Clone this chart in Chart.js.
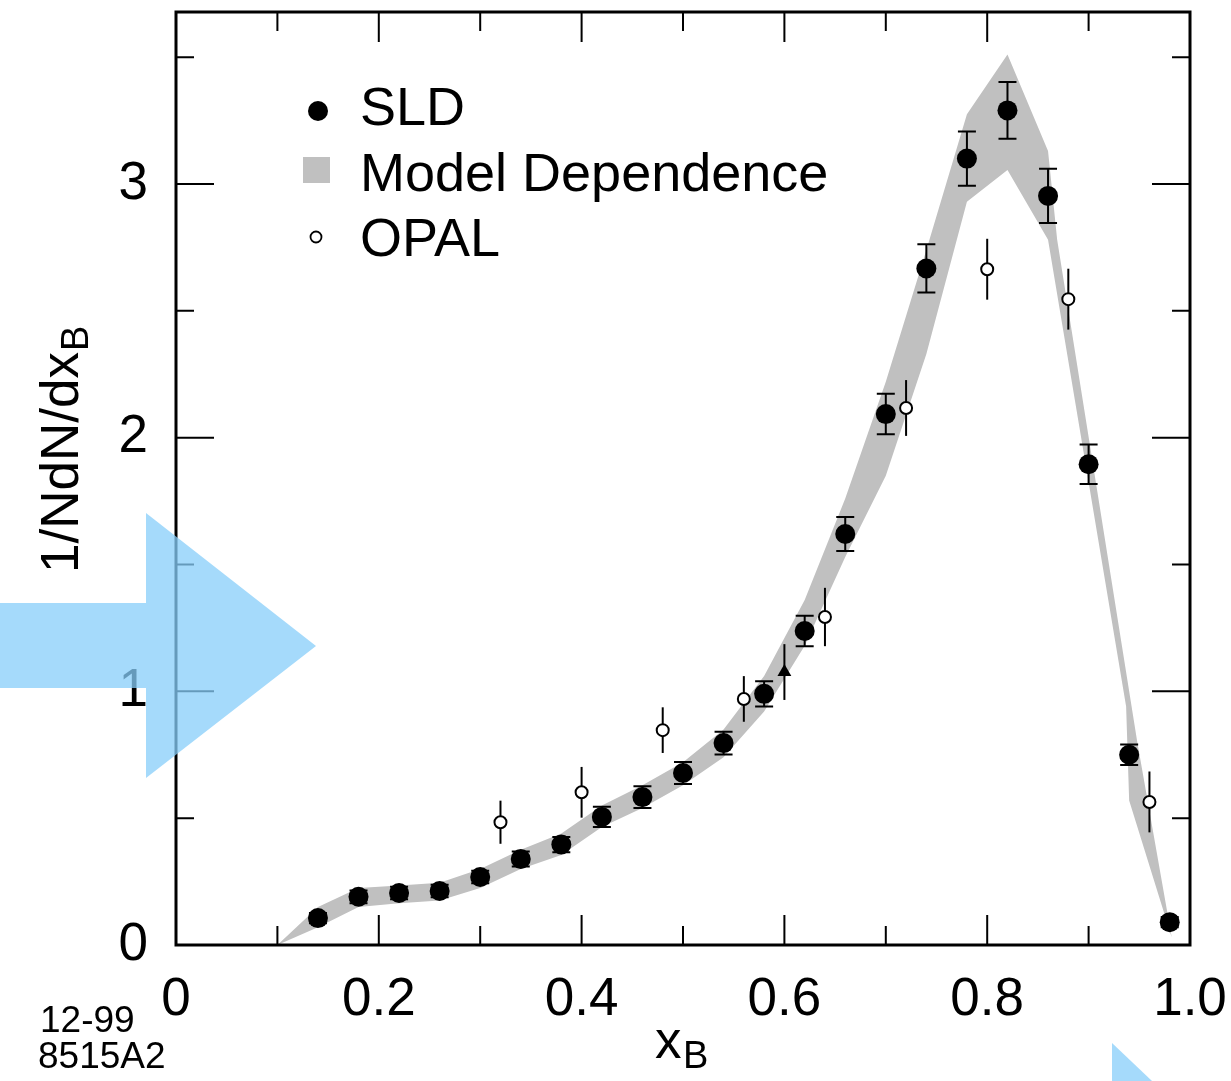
<!DOCTYPE html>
<html>
<head>
<meta charset="utf-8">
<title>x_B distribution</title>
<script src="https://cdn.jsdelivr.net/npm/chart.js@4.4.1/dist/chart.umd.min.js"></script>
<style>
  body { margin: 0; background: #fff; }
  canvas { display: block; }
</style>
</head>
<body>
<canvas id="chart" width="1231" height="1081"></canvas>
<script>
// SLD measurement
var sldX = [0.14, 0.18, 0.22, 0.26, 0.30, 0.34, 0.38, 0.42, 0.46, 0.50, 0.54,
  0.58, 0.62, 0.66, 0.70, 0.74, 0.78, 0.82, 0.86, 0.90, 0.94, 0.98]
var sldY = [0.106, 0.19, 0.205, 0.213, 0.268, 0.339, 0.396, 0.505, 0.583, 0.678, 0.796,
  0.99, 1.238, 1.62, 2.093, 2.667, 3.10, 3.29, 2.953, 1.895, 0.75, 0.09]
var sldErr = [0.02, 0.025, 0.025, 0.025, 0.025, 0.03, 0.03, 0.04, 0.043, 0.043, 0.045,
  0.05, 0.06, 0.067, 0.08, 0.095, 0.107, 0.112, 0.107, 0.078, 0.04, 0.02]

// OPAL
var opalX = [0.32, 0.40, 0.48, 0.56, 0.64, 0.72, 0.80, 0.88, 0.96]
var opalY = [0.484, 0.602, 0.847, 0.97, 1.293, 2.117, 2.664, 2.546, 0.564]
var opalErr = [0.085, 0.10, 0.09, 0.09, 0.115, 0.11, 0.12, 0.12, 0.12]

// single triangle point near x = 0.6
var triX = [0.60]
var triY = [1.076]
var triErr = [0.11]

// model dependence band, upper and lower edges
var bandUpperX = [0.10, 0.14, 0.18, 0.22, 0.26, 0.30, 0.34, 0.38, 0.42, 0.46, 0.50, 0.54,
  0.58, 0.62, 0.66, 0.70, 0.74, 0.78, 0.82, 0.86, 0.869, 0.948, 0.982]
var bandUpperY = [0.00, 0.15, 0.225, 0.235, 0.245, 0.30, 0.375, 0.44, 0.55, 0.63, 0.72, 0.85,
  1.06, 1.36, 1.76, 2.22, 2.74, 3.275, 3.51, 3.13, 2.78, 0.80, 0.03]
var bandLowerX = [0.10, 0.14, 0.18, 0.22, 0.26, 0.30, 0.34, 0.38, 0.42, 0.46, 0.50, 0.54,
  0.58, 0.62, 0.66, 0.70, 0.74, 0.78, 0.82, 0.86, 0.937, 0.94, 0.982]
var bandLowerY = [0.00, 0.07, 0.15, 0.165, 0.175, 0.225, 0.30, 0.355, 0.465, 0.54, 0.63, 0.74,
  0.92, 1.18, 1.53, 1.85, 2.33, 2.93, 3.055, 2.78, 0.94, 0.57, 0.03]

var xTickValues = [0, 0.2, 0.4, 0.6, 0.8, 1.0]
var xTickLabels = ['0', '0.2', '0.4', '0.6', '0.8', '1.0']
var xMinorTicks = [0.1, 0.3, 0.5, 0.7, 0.9]
var yTickValues = [0, 1, 2, 3]
var yTickLabels = ['0', '1', '2', '3']
var yMinorTicks = [0.5, 1.5, 2.5, 3.5]

var FONT = "'Liberation Sans', Arial, Helvetica, sans-serif"

function points(xs, ys) {
  return xs.map(function (x, i) { return { x: x, y: ys[i] } })
}

var bandOutline = points(bandUpperX, bandUpperY).concat(points(bandLowerX, bandLowerY).reverse())

var errorBars = {
  id: 'errorBars',
  beforeDatasetDraw(chart, args) {
    var ds = chart.data.datasets[args.index]
    if (!ds.errors) return
    var ctx = chart.ctx
    var y = chart.scales.y
    ctx.save()
    ctx.strokeStyle = '#000'
    ctx.lineWidth = 2
    args.meta.data.forEach(function (pt, i) {
      var v = ds.data[i].y
      var top = y.getPixelForValue(v + ds.errors[i])
      var bot = y.getPixelForValue(v - ds.errors[i])
      ctx.beginPath()
      ctx.moveTo(pt.x, top)
      ctx.lineTo(pt.x, bot)
      if (ds.capWidth) {
        ctx.moveTo(pt.x - ds.capWidth, top)
        ctx.lineTo(pt.x + ds.capWidth, top)
        ctx.moveTo(pt.x - ds.capWidth, bot)
        ctx.lineTo(pt.x + ds.capWidth, bot)
      }
      ctx.stroke()
    })
    ctx.restore()
  }
}

var frame = {
  id: 'frame',
  afterDatasetsDraw(chart) {
    var ctx = chart.ctx
    var a = chart.chartArea
    var x = chart.scales.x
    var y = chart.scales.y
    ctx.save()
    ctx.strokeStyle = '#000'
    ctx.lineWidth = 2
    ctx.beginPath()
    function xTick(v, len) {
      var p = x.getPixelForValue(v)
      ctx.moveTo(p, a.bottom); ctx.lineTo(p, a.bottom - len)
      ctx.moveTo(p, a.top); ctx.lineTo(p, a.top + len)
    }
    function yTick(v, len) {
      var p = y.getPixelForValue(v)
      ctx.moveTo(a.left, p); ctx.lineTo(a.left + len, p)
      ctx.moveTo(a.right, p); ctx.lineTo(a.right - len, p)
    }
    xTickValues.forEach(function (v) { xTick(v, 30) })
    xMinorTicks.forEach(function (v) { xTick(v, 19) })
    yTickValues.forEach(function (v) { yTick(v, 38) })
    yMinorTicks.forEach(function (v) { yTick(v, 18) })
    ctx.stroke()
    ctx.lineWidth = 3
    ctx.strokeRect(a.left, a.top, a.right - a.left, a.bottom - a.top)
    ctx.restore()
  }
}

var annotations = {
  id: 'annotations',
  afterDraw(chart) {
    var ctx = chart.ctx
    ctx.save()
    ctx.fillStyle = '#000'
    ctx.textBaseline = 'middle'
    ctx.textAlign = 'left'

    // legend
    ctx.font = '54px ' + FONT
    ctx.beginPath()
    ctx.arc(318, 111, 10, 0, Math.PI * 2)
    ctx.fill()
    ctx.fillText('SLD', 360, 110)
    ctx.fillStyle = '#c0c0c0'
    ctx.fillRect(303, 157, 27, 26)
    ctx.fillStyle = '#000'
    ctx.fillText('Model Dependence', 360, 176)
    ctx.beginPath()
    ctx.arc(316, 237, 5.5, 0, Math.PI * 2)
    ctx.fillStyle = '#fff'
    ctx.fill()
    ctx.lineWidth = 1.8
    ctx.stroke()
    ctx.fillStyle = '#000'
    ctx.fillText('OPAL', 360, 241)

    // axis titles
    ctx.textBaseline = 'alphabetic'
    ctx.font = '53px ' + FONT
    ctx.fillText('x', 655, 1058)
    ctx.font = '38px ' + FONT
    ctx.fillText('B', 683, 1068)

    ctx.save()
    ctx.translate(78, 573)
    ctx.rotate(-Math.PI / 2)
    ctx.font = '53px ' + FONT
    ctx.fillText('1/NdN/dx', 0, 0)
    var w = ctx.measureText('1/NdN/dx').width
    ctx.font = '38px ' + FONT
    ctx.fillText('B', w + 1, 10)
    ctx.restore()

    ctx.font = '37px ' + FONT
    ctx.fillText('12-99', 40, 1032)
    ctx.fillText('8515A2', 38, 1068)

    // blue arrow overlay
    ctx.fillStyle = 'rgba(135, 206, 250, 0.75)'
    ctx.beginPath()
    ctx.moveTo(0, 603); ctx.lineTo(146, 603); ctx.lineTo(146, 513)
    ctx.lineTo(316, 646); ctx.lineTo(146, 778); ctx.lineTo(146, 688)
    ctx.lineTo(0, 688); ctx.closePath()
    ctx.fill()
    ctx.beginPath()
    ctx.moveTo(1112, 1043); ctx.lineTo(1152, 1081); ctx.lineTo(1112, 1081)
    ctx.closePath()
    ctx.fill()
    ctx.restore()
  }
}

new Chart(document.getElementById('chart'), {
  type: 'scatter',
  data: {
    datasets: [
      {
        label: 'Model Dependence',
        type: 'line',
        data: bandOutline,
        fill: 'shape',
        backgroundColor: '#c0c0c0',
        borderWidth: 0,
        pointRadius: 0,
        tension: 0,
        order: 10
      },
      {
        label: 'OPAL',
        data: points(opalX, opalY),
        errors: opalErr,
        pointRadius: 6,
        pointBorderWidth: 2,
        pointBackgroundColor: '#fff',
        pointBorderColor: '#000',
        order: 3
      },
      {
        label: 'SLD',
        data: points(sldX, sldY),
        errors: sldErr,
        capWidth: 9,
        pointRadius: 10,
        pointBorderWidth: 0,
        pointBackgroundColor: '#000',
        order: 2
      },
      {
        label: 'other',
        data: points(triX, triY),
        errors: triErr,
        pointStyle: 'triangle',
        pointRadius: 8,
        pointBorderWidth: 0,
        pointBackgroundColor: '#000',
        order: 1
      }
    ]
  },
  options: {
    responsive: false,
    animation: false,
    layout: { padding: { top: 12, right: 41, left: 0, bottom: 0 } },
    plugins: { legend: { display: false }, tooltip: { enabled: false } },
    scales: {
      x: {
        type: 'linear',
        min: 0,
        max: 1,
        grid: { display: false },
        border: { display: false },
        afterBuildTicks(scale) {
          scale.ticks = xTickValues.map(function (v) { return { value: v } })
        },
        afterFit(scale) {
          scale.height = 136
          scale.paddingLeft = 0
          scale.paddingRight = 0
        },
        ticks: {
          padding: 16,
          maxRotation: 0,
          color: '#000',
          font: { family: FONT, size: 53 },
          callback(v, i) { return xTickLabels[i] }
        }
      },
      y: {
        type: 'linear',
        min: 0,
        max: 3.678,
        grid: { display: false },
        border: { display: false },
        afterBuildTicks(scale) {
          scale.ticks = yTickValues.map(function (v) { return { value: v } })
        },
        afterFit(scale) {
          scale.width = 176
          scale.paddingTop = 0
          scale.paddingBottom = 0
        },
        ticks: {
          padding: 20,
          color: '#000',
          font: { family: FONT, size: 53 },
          callback(v, i) { return yTickLabels[i] }
        }
      }
    }
  },
  plugins: [errorBars, frame, annotations]
})
</script>
</body>
</html>
